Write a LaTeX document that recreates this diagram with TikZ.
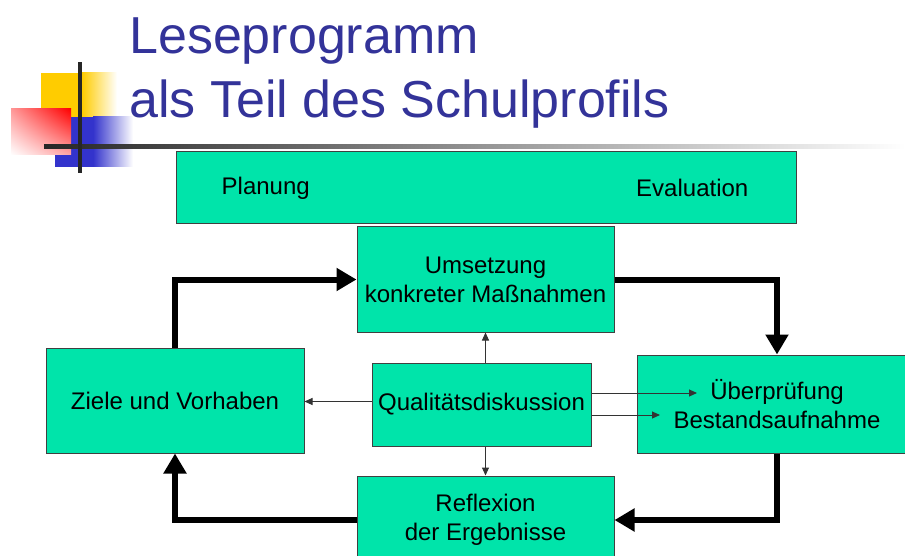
\documentclass[tikz,border=0pt]{standalone}
\usepackage{fontspec}
\setmainfont{Liberation Sans}
\usetikzlibrary{positioning,arrows.meta,shadings}
\definecolor{boxgreen}{RGB}{0,228,170}
\definecolor{titleblue}{RGB}{51,51,153}
\definecolor{logoyellow}{RGB}{255,204,0}
\definecolor{logoblue}{RGB}{51,51,204}

\begin{document}
\begin{tikzpicture}[x=1pt,y=-1pt,
  gbox/.style={draw=black!75,fill=boxgreen,line width=1pt,
    align=center,inner sep=0pt,
    font=\fontsize{24}{29}\selectfont},
  lbl/.style={inner sep=0pt,font=\fontsize{24}{29}\selectfont},
  ttl/.style={anchor=base west,inner sep=0pt,text=titleblue,
    font=\fontsize{52}{64}\selectfont},
  bigarr/.style={line width=6pt,-{Triangle[length=20pt,width=22pt]}},
  smallarr/.style={draw=black!80,line width=1pt,-{Triangle[length=8pt,width=7pt]}},
  node distance=0pt]
 \useasboundingbox (0,0) rectangle (905,556);

 % logo
 \fill[logoyellow] (41,73) rectangle (82,117);
 \shade[left color=logoyellow,right color=white] (82,73) rectangle (117,117);
 \fill[logoblue] (55,117) rectangle (93,167);
 \shade[left color=logoblue,right color=white] (93,117) rectangle (133,167);
 \shade[upper left=red!40,upper right=red,lower left=white,lower right=red!35]
   (11,109) rectangle (71,155);
 \shade[left color=black!85,right color=white] (44,145) rectangle (905,149);
 \fill[black!85] (78,62) rectangle (82,173);

 \node[ttl] (title1) at (129,54) {Leseprogramm};
 \node[ttl] (title2) at (129,118) {als Teil des Schulprofils};

 % boxes
 \node[gbox,minimum width=620,minimum height=72] (top) at (486,188) {};
 \node[lbl,right=46pt of top.west] (plan) {Planung};
 \node[lbl,left=48pt of top.east] (eval) {Evaluation};
 \node[gbox,minimum width=257,minimum height=105] (umsetz) at (485.5,279.5)
   {Umsetzung\\konkreter Maßnahmen};
 \node[gbox,minimum width=258,minimum height=105] (ziele) at (175,400.5)
   {Ziele und Vorhaben};
 \node[gbox,minimum width=280,minimum height=98] (ueber) at (777,404)
   {Überprüfung\\Bestandsaufnahme};
 \node[gbox,minimum width=257,minimum height=88] (reflex) at (485.5,520)
   {Reflexion\\der Ergebnisse};
 \node[gbox,minimum width=219,minimum height=83] (quali) at (481.5,404.5)
   {Qualitätsdiskussion};

 % cycle
 \draw[bigarr] (ziele.north) |- (umsetz.west);
 \draw[bigarr] (umsetz.east) -| (ueber.north);
 \draw[bigarr] (ueber.south) |- (reflex.east);
 \draw[bigarr] (reflex.west) -| (ziele.south);

 % from the discussion
 \coordinate (pu) at (697,393);
 \coordinate (pb) at (660,415);
 \draw[smallarr] (umsetz.south |- quali.north) -- (umsetz.south);
 \draw[smallarr] (reflex.north |- quali.south) -- (reflex.north);
 \draw[smallarr] ([yshift=3pt]quali.west) -- ([yshift=3pt]quali.west -| ziele.east);
 \draw[smallarr] (quali.east |- pu) -- (pu);
 \draw[smallarr] (quali.east |- pb) -- (pb);

\end{tikzpicture}
\end{document}
